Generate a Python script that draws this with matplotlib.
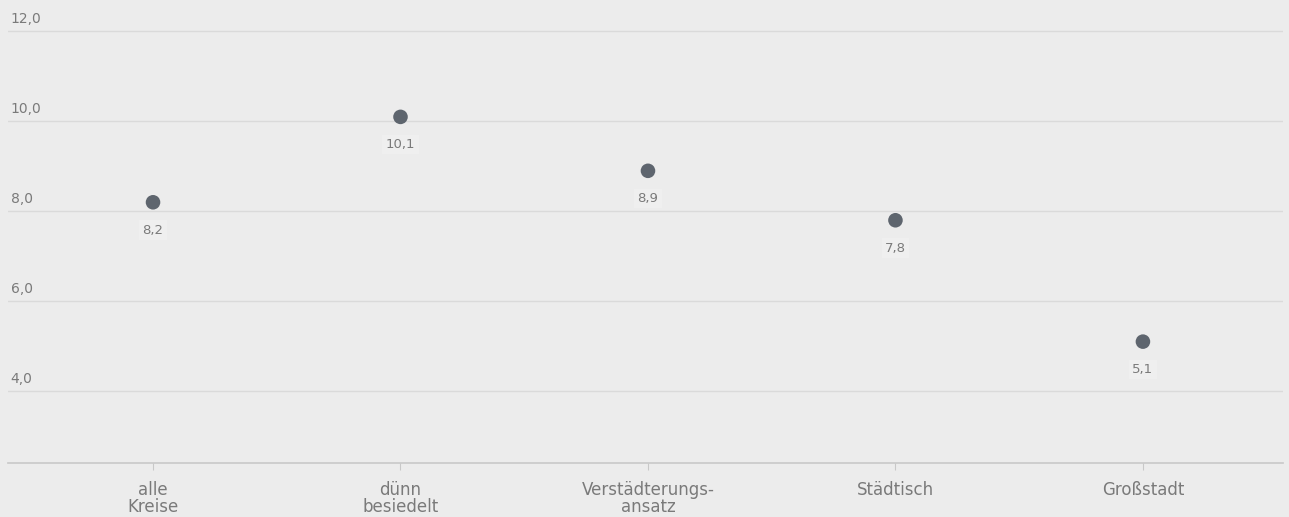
import matplotlib.pyplot as plt

categories = ["alle\nKreise", "dünn\nbesiedelt", "Verstädterungs-\nansatz", "Städtisch", "Großstadt"]
values = [8.2, 10.1, 8.9, 7.8, 5.1]
value_labels = ["8,2", "10,1", "8,9", "7,8", "5,1"]
y_ticks = [4.0, 6.0, 8.0, 10.0, 12.0]
y_tick_labels = ["4,0", "6,0", "8,0", "10,0", "12,0"]

bg = "#ececec"
text_col = "#7a7a7a"
dot_col = "#5e656e"

plt.rcParams['font.family'] = ['DejaVu Sans']

fig = plt.figure(figsize=(12.89, 5.17), dpi=100)
fig.patch.set_facecolor(bg)
ax = fig.add_axes([8 / 1289, 54 / 517, 1275 / 1289, 463 / 517])
ax.set_facecolor(bg)

x = list(range(len(categories)))
ax.scatter(x, values, s=110, color=dot_col, zorder=3, edgecolors='none')

for xi, v, lab in zip(x, values, value_labels):
    ax.annotate(lab, (xi, v), xytext=(0, -20), textcoords='offset points',
                ha='center', va='center', fontsize=9.5, color=text_col,
                bbox=dict(boxstyle='square,pad=0.25', fc='#efefef', ec='none'))

for yv, lab in zip(y_ticks, y_tick_labels):
    ax.axhline(yv, color='#dadada', lw=1, zorder=1)
    ax.annotate(lab, (0.002, yv), xycoords=ax.get_yaxis_transform(),
                xytext=(0, 4), textcoords='offset points',
                ha='left', va='bottom', fontsize=10, color=text_col)

ax.set_xlim(-0.586, 4.566)
ax.set_ylim(2.4, 12.7)
ax.set_yticks([])
ax.set_xticks(x)
ax.set_xticklabels(categories, fontsize=12, color=text_col, linespacing=0.95)
ax.tick_params(axis='x', length=5, color='#c8c8c8', pad=8)

for s in ['top', 'right', 'left']:
    ax.spines[s].set_visible(False)
ax.spines['bottom'].set_color('#c8c8c8')
ax.spines['bottom'].set_linewidth(1.2)

fig.savefig("out.png", dpi=100, facecolor=bg)
